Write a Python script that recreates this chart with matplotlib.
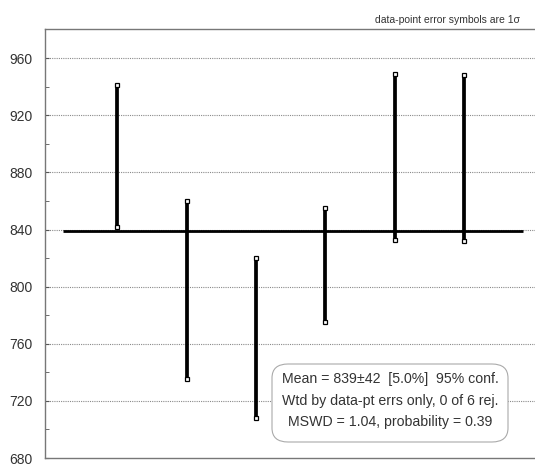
import matplotlib
matplotlib.use("Agg")
from matplotlib import pyplot as plt
from matplotlib.patches import FancyBboxPatch

plt.rcParams["font.family"] = ["Liberation Sans", "DejaVu Sans"]

# error bar ends (1 sigma)
x_pos = [1, 2, 3, 4, 5, 6]
bar_top = [941, 860, 820, 855, 949, 948]
bar_bottom = [842, 735, 708, 775, 833, 832]
mean_value = 839
y_ticks = [680, 720, 760, 800, 840, 880, 920, 960]
box_lines = [
  "Mean = 839±42  [5.0%]  95% conf.",
  "Wtd by data-pt errs only, 0 of 6 rej.",
  "MSWD = 1.04, probability = 0.39",
]

fig = plt.figure(figsize=(5.35, 4.66), dpi=100)
ax = fig.add_axes([45 / 535, 1 - 458 / 466, 1 - 45 / 535 + 0.01, (458 - 29) / 466])
ax.set_xlim(-0.04, 7.1)
ax.set_ylim(680, 980.5)

for y in y_ticks[1:]:
  ax.axhline(y, color="#8a8a8a", linestyle=(0, (1, 1)), linewidth=0.8, zorder=0)

ax.hlines(mean_value, 0.22, 6.85, color="black", linewidth=2.0, zorder=2)

for x, top, bot in zip(x_pos, bar_top, bar_bottom):
  ax.vlines(x, bot, top, color="black", linewidth=2.7, zorder=3)
  ax.plot([x, x], [bot, top], linestyle="none", marker="s", markersize=3.5,
          markerfacecolor="white", markeredgecolor="black", markeredgewidth=0.9, zorder=4)

ax.set_yticks(y_ticks)
ax.set_yticks(range(700, 980, 40), minor=True)
ax.set_xticks([])
ax.tick_params(axis="y", which="both", direction="in", length=3, color="#555555",
               labelsize=10, labelcolor="#333333", pad=9)
for side in ["left", "bottom", "top"]:
  ax.spines[side].set_color("#777777")
  ax.spines[side].set_linewidth(1.0)
ax.spines["right"].set_visible(False)

fig.text(520 / 535, 1 - 20 / 466, "data-point error symbols are 1σ", ha="right", va="center",
         fontsize=7.5, color="#333333")

box = FancyBboxPatch((272 / 535, 1 - 442 / 466), (508 - 272) / 535, (442 - 364) / 466,
                     boxstyle="round,pad=0,rounding_size=0.03", transform=fig.transFigure,
                     facecolor="white", edgecolor="#aaaaaa", linewidth=0.8, zorder=5)
fig.patches.append(box)
for i, line in enumerate(box_lines):
  fig.text(390 / 535, 1 - (379 + i * 21.5) / 466, line, ha="center", va="center",
           fontsize=10.2, color="#333333", zorder=6)

fig.savefig("out.png", dpi=100)
